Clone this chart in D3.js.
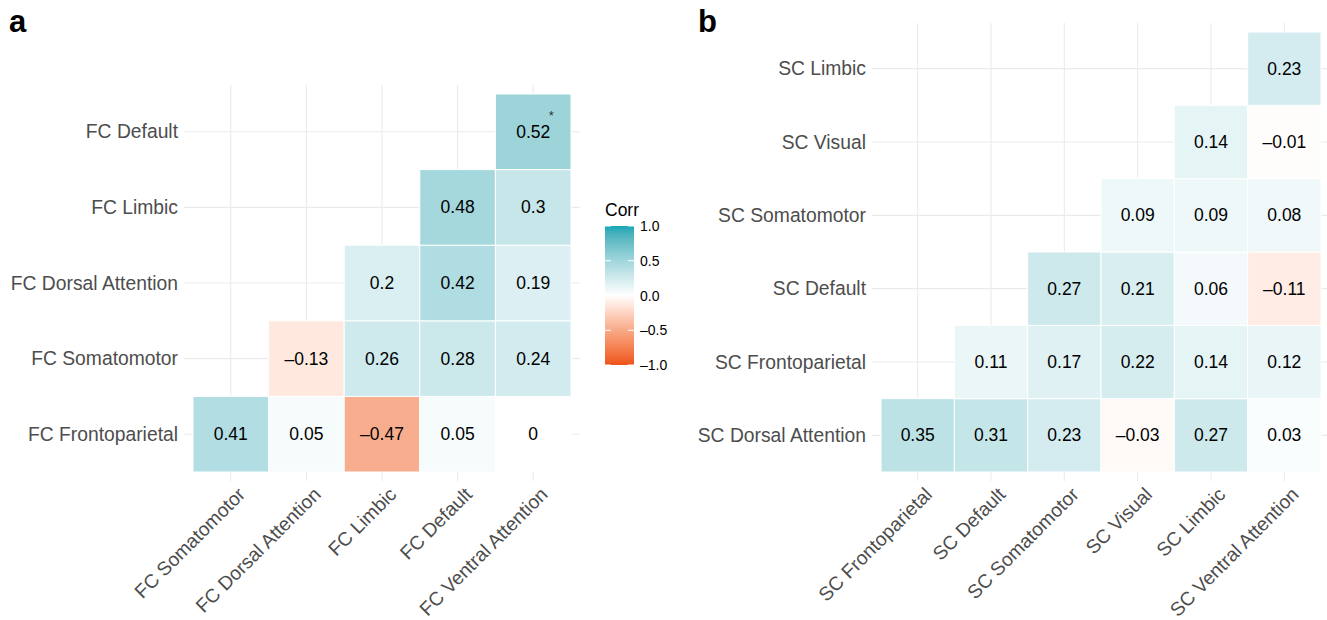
<!DOCTYPE html>
<html><head><meta charset="utf-8">
<script src="https://cdn.jsdelivr.net/npm/d3@7"></script>
<style>body{margin:0;background:#fff}svg{font-family:"Liberation Sans",Arial,sans-serif}</style>
</head><body><svg id="c" width="1327" height="620"></svg>
<script>
const aRows = ["FC Frontoparietal","FC Somatomotor","FC Dorsal Attention","FC Limbic","FC Default"];
const aCols = ["FC Somatomotor","FC Dorsal Attention","FC Limbic","FC Default","FC Ventral Attention"];
const aVals = [
  [0.41, 0.05, -0.47, 0.05, 0],
  [null, -0.13, 0.26, 0.28, 0.24],
  [null, null, 0.2, 0.42, 0.19],
  [null, null, null, 0.48, 0.3],
  [null, null, null, null, 0.52]
];
const aSig = [[4,4]];
const bRows = ["SC Dorsal Attention","SC Frontoparietal","SC Default","SC Somatomotor","SC Visual","SC Limbic"];
const bCols = ["SC Frontoparietal","SC Default","SC Somatomotor","SC Visual","SC Limbic","SC Ventral Attention"];
const bVals = [
  [0.35, 0.31, 0.23, -0.03, 0.27, 0.03],
  [null, 0.11, 0.17, 0.22, 0.14, 0.12],
  [null, null, 0.27, 0.21, 0.06, -0.11],
  [null, null, null, 0.09, 0.09, 0.08],
  [null, null, null, null, 0.14, -0.01],
  [null, null, null, null, null, 0.23]
];
const legendTicks = [1.0, 0.5, 0.0, -0.5, -1.0];

const svg = d3.select("#c");
const color = d3.scaleLinear().domain([-1,-0.5,0,0.5,1])
  .range(["#EE5319","#F7A987","#FFFFFF","#A0D6DC","#16A7B5"]).interpolate(d3.interpolateLab);
const fmt = v => { let s = String(+v.toFixed(2)); return s.replace("-", "\u2013"); };
const AXF = 19.3, CF = 17.5;

function panel(rows, cols, vals, sig, x0, x1, y0, y1, expand) {
  const g = svg.append("g");
  const x = d3.scaleBand().domain(cols).range([x0, x1]).padding(0);
  const y = d3.scaleBand().domain(rows.slice().reverse()).range([y0, y1]).padding(0);
  const px0 = x0 - expand, px1 = x1 + expand, py0 = y0 - expand, py1 = y1 + expand;
  g.selectAll(".vg").data(cols).join("line")
    .attr("x1", d => x(d) + x.bandwidth()/2).attr("x2", d => x(d) + x.bandwidth()/2)
    .attr("y1", py0).attr("y2", py1).attr("stroke", "#ebebeb").attr("stroke-width", 1.1);
  g.selectAll(".hg").data(rows).join("line")
    .attr("y1", d => y(d) + y.bandwidth()/2).attr("y2", d => y(d) + y.bandwidth()/2)
    .attr("x1", px0).attr("x2", px1).attr("stroke", "#ebebeb").attr("stroke-width", 1.1);
  const cells = [];
  vals.forEach((r, i) => r.forEach((v, j) => { if (v !== null) cells.push({r: rows[i], c: cols[j], v, i, j}); }));
  g.selectAll("rect.cell").data(cells).join("rect")
    .attr("x", d => x(d.c)).attr("y", d => y(d.r))
    .attr("width", x.bandwidth()).attr("height", y.bandwidth())
    .attr("fill", d => color(d.v)).attr("stroke", "#fff").attr("stroke-width", 1);
  g.selectAll("text.val").data(cells).join("text")
    .attr("x", d => x(d.c) + x.bandwidth()/2).attr("y", d => y(d.r) + y.bandwidth()/2)
    .attr("text-anchor", "middle").attr("dominant-baseline", "central")
    .attr("font-size", CF).attr("fill", "#000").text(d => fmt(d.v));
  g.selectAll("text.sig").data(sig).join("text")
    .attr("x", d => x(cols[d[1]]) + x.bandwidth()/2 + 18).attr("y", d => y(rows[d[0]]) + y.bandwidth()/2 - 12)
    .attr("text-anchor", "middle").attr("font-size", 13).attr("fill", "#333").text("*");
  g.selectAll("text.yl").data(rows).join("text")
    .attr("x", px0 - 6).attr("y", d => y(d) + y.bandwidth()/2)
    .attr("text-anchor", "end").attr("dominant-baseline", "central")
    .attr("font-size", AXF).attr("fill", "#4d4d4d").text(d => d);
  g.selectAll("text.xl").data(cols).join("text")
    .attr("transform", d => `translate(${x(d) + x.bandwidth()/2 + 6},${py1 + 5}) rotate(-45)`)
    .attr("text-anchor", "end").attr("dominant-baseline", "hanging")
    .attr("font-size", AXF).attr("fill", "#4d4d4d").text(d => d);
}

panel(aRows, aCols, aVals, aSig, 193, 571, 94, 472, 9);
panel(bRows, bCols, bVals, [], 881, 1321, 32, 472, 9);

svg.append("text").attr("x", 9).attr("y", 32).attr("font-size", 31).attr("font-weight", "bold").text("a");
svg.append("text").attr("x", 698).attr("y", 32).attr("font-size", 31).attr("font-weight", "bold").text("b");

const lg = svg.append("g");
const ly = d3.scaleLinear().domain([1, -1]).range([226, 365]);
const defs = svg.append("defs");
const grad = defs.append("linearGradient").attr("id", "lgd").attr("x1", 0).attr("x2", 0).attr("y1", 0).attr("y2", 1);
d3.range(0, 1.0001, 0.05).forEach(t => grad.append("stop").attr("offset", t).attr("stop-color", color(1 - 2*t)));
lg.append("rect").attr("x", 605).attr("y", ly(1)).attr("width", 29).attr("height", ly(-1) - ly(1)).attr("fill", "url(#lgd)");
lg.selectAll("line.t").data(legendTicks).join("line")
  .attr("x1", 605).attr("x2", 611).attr("y1", d => ly(d)).attr("y2", d => ly(d)).attr("stroke", "#fff");
lg.selectAll("line.t2").data(legendTicks).join("line")
  .attr("x1", 628).attr("x2", 634).attr("y1", d => ly(d)).attr("y2", d => ly(d)).attr("stroke", "#fff");
lg.selectAll("text.lt").data(legendTicks).join("text")
  .attr("x", 640).attr("y", d => ly(d)).attr("dominant-baseline", "central")
  .attr("font-size", 14).attr("fill", "#000").text(d => d.toFixed(1).replace("-", "\u2013"));
lg.append("text").attr("x", 605).attr("y", 216).attr("font-size", 17.5).attr("fill", "#000").text("Corr");
</script></body></html>
